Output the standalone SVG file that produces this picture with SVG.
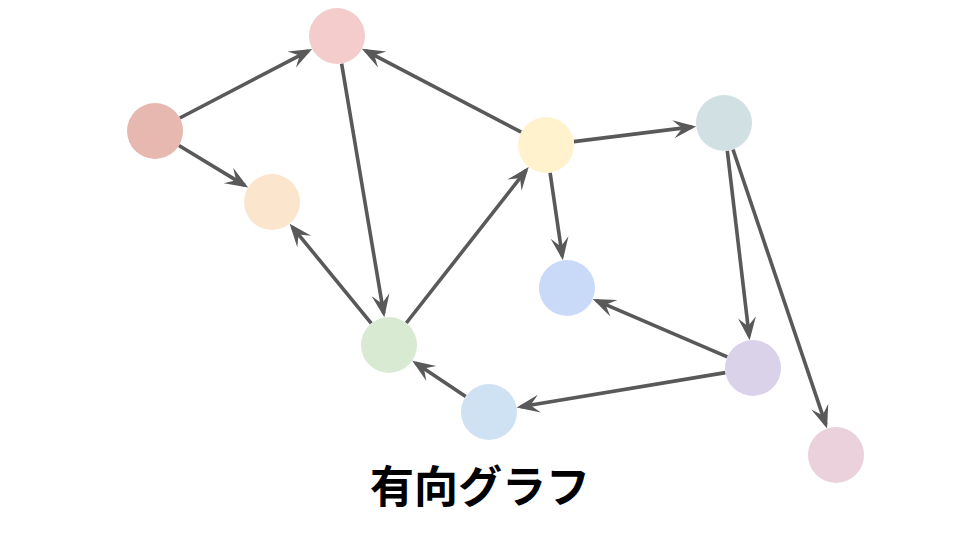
<svg xmlns="http://www.w3.org/2000/svg" width="960" height="540" viewBox="0 0 960 540">
<style>
.e{stroke:#595959;stroke-width:3.6;fill:none;marker-end:url(#arr)}
.t{font-family:"Noto Sans CJK JP","Noto Sans CJK SC",sans-serif;font-weight:bold;font-size:44px;fill:#000}
</style>
<defs>
<marker id="arr" markerUnits="userSpaceOnUse" markerWidth="30" markerHeight="24" viewBox="-27 -12 30 24" refX="-4" refY="0" orient="auto">
<path d="M0,0 L-23,-9 L-14,0 L-23,9 Z" fill="#595959"/>
</marker>
</defs>
<rect width="960" height="540" fill="#fff"/>
<g id="connectors">
<line class="e" x1="179.8" y1="118.0" x2="308.6" y2="50.8"/>
<line class="e" x1="178.9" y1="145.5" x2="244.7" y2="185.4"/>
<line class="e" x1="341.6" y1="63.6" x2="383.7" y2="313.4"/>
<line class="e" x1="521.2" y1="132.1" x2="365.4" y2="50.7"/>
<line class="e" x1="573.8" y1="141.6" x2="692.2" y2="126.9"/>
<line class="e" x1="550.1" y1="172.7" x2="562.3" y2="256.3"/>
<line class="e" x1="406.3" y1="323.0" x2="526.2" y2="170.2"/>
<line class="e" x1="371.3" y1="323.3" x2="292.2" y2="226.8"/>
<line class="e" x1="727.3" y1="150.8" x2="749.2" y2="336.2"/>
<line class="e" x1="733.0" y1="149.5" x2="825.8" y2="424.7"/>
<line class="e" x1="727.3" y1="356.9" x2="596.4" y2="300.7"/>
<line class="e" x1="725.4" y1="372.6" x2="520.6" y2="406.8"/>
<line class="e" x1="465.7" y1="396.4" x2="415.6" y2="362.9"/>
</g>
<g id="nA"><circle cx="155" cy="131" r="28" fill="#e6b8af"/></g>
<g id="nB"><circle cx="337" cy="36" r="28" fill="#f4cccc"/></g>
<g id="nC"><circle cx="272" cy="202" r="28" fill="#fce5cd"/></g>
<g id="nD"><circle cx="546" cy="145" r="28" fill="#fff2cc"/></g>
<g id="nE"><circle cx="724" cy="123" r="28" fill="#d0e0e3"/></g>
<g id="nF"><circle cx="567" cy="288" r="28" fill="#c9daf8"/></g>
<g id="nG"><circle cx="389" cy="345" r="28" fill="#d9ead3"/></g>
<g id="nH"><circle cx="753" cy="368" r="28" fill="#d9d2e9"/></g>
<g id="nI"><circle cx="489" cy="412" r="28" fill="#cfe2f3"/></g>
<g id="nJ"><circle cx="836" cy="455" r="28" fill="#ead1dc"/></g>
<text class="t" x="480" y="503" text-anchor="middle">有向グラフ</text>
</svg>
